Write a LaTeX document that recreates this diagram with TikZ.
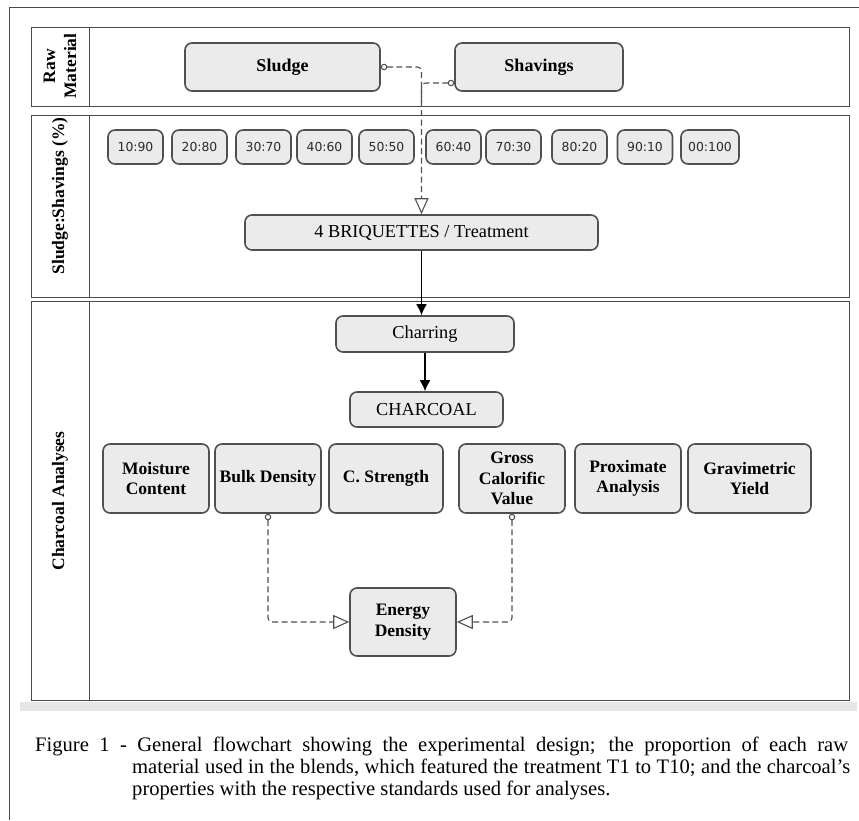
\documentclass[tikz,border=0pt]{standalone}
\usepackage{fontspec}
\setmainfont{Liberation Serif}
\newfontfamily\ratiofont{DejaVu Sans}
\usetikzlibrary{arrows.meta}
\definecolor{boxfill}{HTML}{EBEBEB}
\definecolor{boxborder}{HTML}{505050}
\definecolor{lanecol}{HTML}{4A4A4A}
\definecolor{conncol}{HTML}{505050}
\definecolor{shadecol}{HTML}{E6E6E6}
\definecolor{ratiotext}{HTML}{2A2A2A}
\begin{document}
\begin{tikzpicture}[x=1pt,y=-1pt,
  box/.style={draw=boxborder, fill=boxfill, line width=1.6pt, rounded corners=7pt, inner sep=0pt, align=center},
  bigbox/.style={box, font=\bfseries\fontsize{18}{21}\selectfont},
  midbox/.style={box, font=\fontsize{18.3}{21}\selectfont},
  anbox/.style={box, minimum height=69pt, font=\bfseries\fontsize{17.5}{20.5}\selectfont},
  ratiobox/.style={box, minimum width=55pt, minimum height=34pt, font=\ratiofont\fontsize{12.4}{14}\selectfont, text=ratiotext},
  lane/.style={draw=lanecol, line width=1pt},
  header/.style={rotate=90, align=center, font=\bfseries\fontsize{17.5}{21}\selectfont},
  dashconn/.style={draw=conncol, line width=1.1pt, dash pattern=on 6pt off 3.5pt, rounded corners=4pt},
  tailtip/.style={{Circle[open, length=6.5pt, width=6.5pt, line width=1.1pt]}-{Triangle[open, length=16pt, width=14pt, line width=1.1pt]}},
  solidconn/.style={draw=black, line width=1.6pt, -{Latex[length=11pt, width=11pt]}}
]
\useasboundingbox (0,0) rectangle (859,820);
% outer frame (open at right and bottom)
\draw[draw=lanecol, line width=1pt] (9,820) -- (9,7) -- (859,7);
% shadow band under the lanes
\fill[shadecol] (20,702) rectangle (857,711);
% lanes
\draw[lane] (31,27) rectangle (849,106);
\draw[lane] (89,27) -- (89,106);
\draw[lane] (31,115) rectangle (849,297);
\draw[lane] (89,115) -- (89,297);
\draw[lane] (31,301) rectangle (849,700);
\draw[lane] (89,301) -- (89,700);
% lane headers
\node[header] (h1) at (60,66) {Raw\\Material};
\node[header] (h2) at (60,196) {Sludge:Shavings (\%)};
\node[header] (h3) at (60,501) {Charcoal Analyses};
% raw materials
\node[bigbox, minimum width=195pt, minimum height=48pt] (sludge) at (282.5,67) {Sludge};
\node[bigbox, minimum width=168pt, minimum height=48pt] (shavings) at (539,67) {Shavings};
% ratios
\node[ratiobox] (r1) at (135.5,147) {10:90};
\node[ratiobox] (r2) at (199.5,147) {20:80};
\node[ratiobox] (r3) at (263.5,147) {30:70};
\node[ratiobox] (r4) at (324.5,147) {40:60};
\node[ratiobox] (r5) at (386.5,147) {50:50};
\node[ratiobox] (r6) at (453.5,147) {60:40};
\node[ratiobox] (r7) at (513.5,147) {70:30};
\node[ratiobox] (r8) at (579.5,147) {80:20};
\node[ratiobox] (r9) at (645,147) {90:10};
\node[ratiobox, minimum width=58pt] (r10) at (710,147) {00:100};
% briquettes
\node[midbox, minimum width=353pt, minimum height=35pt] (briq) at (421.5,232.5) {4 BRIQUETTES / Treatment};
% charring and charcoal
\node[midbox, minimum width=178pt, minimum height=36pt] (charring) at (425,334) {Charring};
\node[midbox, minimum width=153pt, minimum height=35pt] (charcoal) at (426.5,409.5) {CHARCOAL};
% analyses
\node[anbox, minimum width=106pt] (moist) at (156,478.5) {Moisture\\Content};
\node[anbox, minimum width=106pt] (bulk) at (268,478.5) {Bulk Density};
\node[anbox, minimum width=114pt] (cstr) at (386,478.5) {C. Strength};
\node[anbox, minimum width=106pt] (gross) at (512,478.5) {Gross\\Calorific\\Value};
\node[anbox, minimum width=106pt] (prox) at (628,478.5) {Proximate\\Analysis};
\node[anbox, minimum width=123pt] (grav) at (749.5,478.5) {Gravimetric\\Yield};
\node[anbox, minimum width=106pt, minimum height=68pt] (energy) at (403,622) {Energy\\Density};
% connectors
\coordinate (shvport) at ([yshift=-16pt]shavings.west);
\coordinate (merge) at (421.5,104);
\draw[dashconn, tailtip] (sludge.east) -| (briq.north);
\draw[dashconn, {Circle[open, length=6.5pt, width=6.5pt, line width=1.1pt]}-] (shvport) -| (merge);
\draw[solidconn] (briq.south) -- (briq.south |- charring.north);
\draw[solidconn] (charring.south) -- (charring.south |- charcoal.north);
\draw[dashconn, tailtip] (bulk.south) |- (energy.west);
\draw[dashconn, tailtip] (gross.south) |- (energy.east);
% caption
\node[anchor=base west, inner sep=0pt, font=\fontsize{20.6}{22}\selectfont] (cap1) at (35,751) {\makebox[813pt][s]{Figure 1 - General flowchart showing the experimental design; the proportion of each raw}};
\node[anchor=base west, inner sep=0pt, font=\fontsize{20.6}{22}\selectfont] (cap2) at (132,773) {\makebox[718pt][s]{material used in the blends, which featured the treatment T1 to T10; and the charcoal’s}};
\node[anchor=base west, inner sep=0pt, font=\fontsize{20.6}{22}\selectfont] (cap3) at (132,795) {properties with the respective standards used for analyses.};
\end{tikzpicture}
\end{document}
